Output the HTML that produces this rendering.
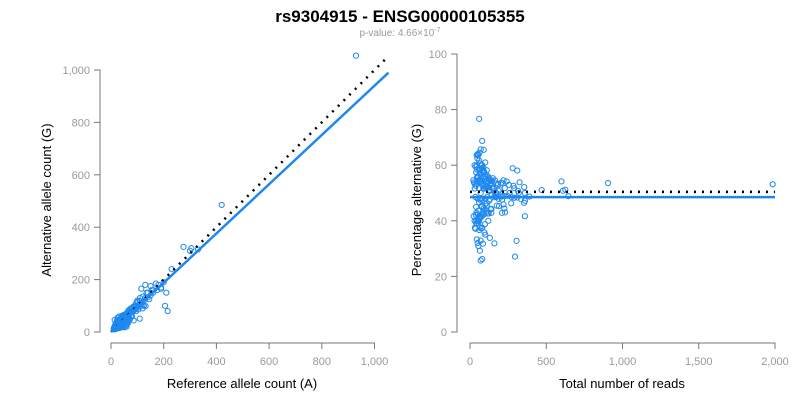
<!DOCTYPE html>
<html><head><meta charset="utf-8"><style>
body{margin:0;background:#fff;}
svg{display:block;font-family:"Liberation Sans",Arial,sans-serif;}
.tick{fill:#999;font-size:11px;}
.ax{stroke:#777;stroke-width:1;fill:none;}
.lbl{fill:#000;font-size:13px;}
</style></head><body>
<svg id="chart" width="800" height="400">
<text x="400" y="22" text-anchor="middle" font-weight="bold" font-size="17">rs9304915 - ENSG00000105355</text>
<text x="400" y="36" text-anchor="middle" font-size="10" fill="#999">p-value: 4.66×10<tspan dy="-4" font-size="7">-7</tspan></text>
<g id="left"></g>
<g id="right"></g>
<text class="lbl" x="242" y="388" text-anchor="middle">Reference allele count (A)</text>
<text class="lbl" transform="translate(51,200) rotate(-90)" text-anchor="middle">Alternative allele count (G)</text>
<text class="lbl" x="622" y="388" text-anchor="middle">Total number of reads</text>
<text class="lbl" transform="translate(421,200) rotate(-90)" text-anchor="middle">Percentage alternative (G)</text>
</svg>
<script>
const refCounts=[930,420,275,305,330,205,215,130,150,190,120,140,100,110,95,85,75,160,175,90,70,60,55,50,45,40,35,30,25,20,18,15,12,10,22,28,33,38,42,48,52,58,62,68,72,78,82,88,92,98,105,115,125,65,55,45,35,30,25,20,15,12,30,40,50,60,70,80,45,35,25,28,38,48,58,24,26,32,36,44,16,14,18,22,28,34,42,50,56,64,30,40,20,26,36,46,52,60,66,76,86,96,110,125,140,180,230,170,160,150,190,200,210,120,100,300,135,145,155,24,30,40,54,62,80,36,28,22,18,44,110,95,60,75,85,
14,25,24,31,18,23,39,36,17,53,31,67,21,46,64,32,59,41,78,31,52,38,72,30,50,38,65,30,47,58,38,46,52,59,34,61,86,109,47,22,18,14,18,20,27,48,66,66,63,85,104,119,110,130,115,131,26,29,35,42,40,56,24,22,35,32,46,22];
const altCounts=[1055,485,325,320,315,100,80,180,175,165,135,150,115,105,100,95,80,160,160,85,75,65,60,55,50,45,40,35,30,25,20,16,14,12,26,30,30,35,45,52,48,55,65,62,70,80,78,85,95,90,100,110,120,78,68,55,42,36,35,28,22,18,20,28,38,45,52,60,32,24,16,40,52,62,70,18,40,46,50,56,28,10,30,16,42,22,30,40,66,72,40,24,12,36,24,34,62,38,78,60,98,80,118,100,132,180,240,185,150,140,170,190,150,90,120,310,150,125,160,30,22,54,46,48,92,52,18,40,12,36,100,110,50,90,80,
46,55,46,59,32,37,61,49,23,67,39,83,24,49,66,28,51,34,62,24,38,27,48,20,30,22,35,15,23,27,17,19,18,21,16,34,44,51,28,18,17,16,27,35,38,57,49,59,72,85,86,101,130,130,165,99,24,31,35,38,50,44,16,13,25,48,64,28];
const leftXTicks=[0,200,400,600,800,1000];
const leftYTicks=[0,200,400,600,800,1000];
const rightXTicks=[0,500,1000,1500,2000];
const rightYTicks=[0,20,40,60,80,100];
const leftFitSlope=0.94, leftFitMaxX=1053, leftNullMaxX=1045;
const rightFitPct=48.5, rightNullPct=50.4, rightMaxX=2000;
const NS='http://www.w3.org/2000/svg';
function mk(parent,tag,attrs){const e=document.createElementNS(NS,tag);for(const k in attrs)e.setAttribute(k,attrs[k]);parent.appendChild(e);return e;}
const fmt=v=>v.toLocaleString('en-US');
const lx=v=>111+v*0.2635, ly=v=>332-v*0.262;
const rx=v=>470+v*0.1525, ry=v=>332-v*2.78;
function axes(g,xs,ys,xT,yT,yAxisX,xAxisY){
  let a=mk(g,'path',{class:'ax',d:`M${yAxisX-6},${ys(yT[0])}H${yAxisX}V${ys(yT[yT.length-1])}H${yAxisX-6}`});
  
  yT.forEach(t=>{const y=ys(t);
    const l=mk(g,'line',{class:'ax',x1:yAxisX-6,x2:yAxisX,y1:y,y2:y});
    
    const tx=mk(g,'text',{class:'tick',x:yAxisX-10,y:y+4,'text-anchor':'end'});tx.textContent=fmt(t);
    });
  let b=mk(g,'path',{class:'ax',d:`M${xs(xT[0])},${xAxisY+6}V${xAxisY}H${xs(xT[xT.length-1])}V${xAxisY+6}`});
  
  xT.forEach(t=>{const x=xs(t);
    const l=mk(g,'line',{class:'ax',x1:x,x2:x,y1:xAxisY,y2:xAxisY+6});
    
    const tx=mk(g,'text',{class:'tick',x:x,y:xAxisY+22,'text-anchor':'middle'});tx.textContent=fmt(t);
    });
}
const L=document.getElementById('left'),R=document.getElementById('right');
axes(L,lx,ly,leftXTicks,leftYTicks,100,343);
axes(R,rx,ry,rightXTicks,rightYTicks,457,343);
refCounts.forEach((r,i)=>{const a=altCounts[i];
  const c=mk(L,'circle',{cx:lx(r),cy:ly(a),r:2.6,fill:'none',stroke:'#1e88f0','stroke-width':1});
  
  const t=r+a,p=a/t*100;
  const d=mk(R,'circle',{cx:rx(t),cy:ry(p),r:2.6,fill:'none',stroke:'#1e88f0','stroke-width':1});
  });
let e;
e=mk(L,'line',{x1:lx(0),y1:ly(0),x2:lx(leftNullMaxX),y2:ly(leftNullMaxX),stroke:'#000','stroke-width':2.5,'stroke-dasharray':'2,6'});

e=mk(L,'line',{x1:lx(0),y1:ly(0),x2:lx(leftFitMaxX),y2:ly(leftFitMaxX*leftFitSlope),stroke:'#1e88f0','stroke-width':2.5});

e=mk(R,'line',{x1:rx(0),y1:ry(rightNullPct),x2:rx(rightMaxX),y2:ry(rightNullPct),stroke:'#000','stroke-width':2.5,'stroke-dasharray':'2,6'});

e=mk(R,'line',{x1:rx(0),y1:ry(rightFitPct),x2:rx(rightMaxX),y2:ry(rightFitPct),stroke:'#1e88f0','stroke-width':2.5});

</script>
</body></html>
